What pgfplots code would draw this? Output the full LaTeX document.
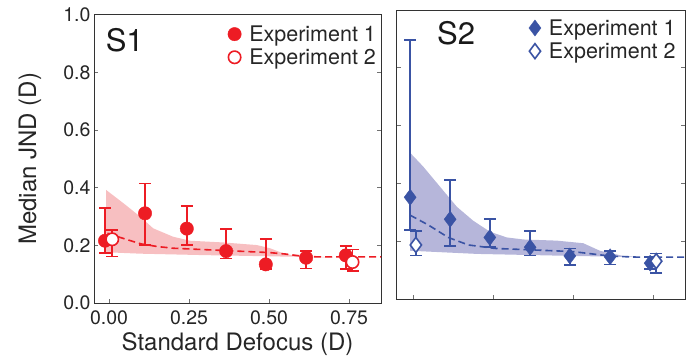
\documentclass[border=0pt]{standalone}
\usepackage{pgfplots}
\pgfplotsset{compat=1.18}
\usepackage{fontspec}
\setmainfont{TeX Gyre Heros}
\definecolor{cred}{HTML}{ED1C24}
\definecolor{cpink}{HTML}{F7BFC1}
\definecolor{cblue}{HTML}{3A53A4}
\definecolor{clav}{HTML}{B6B6DA}
\definecolor{cframe}{HTML}{333333}
\begin{document}
\begin{tikzpicture}
\path[use as bounding box] (0,0) rectangle (696bp,360bp);
\pgfplotsset{
  common/.style={
    scale only axis,
    anchor=south west,
    ymin=0, ymax=1, xmax=0.85,
    axis line style={cframe, line width=0.9bp},
    tick style={cframe!70, line width=0.8bp},
    tick align=inside,
    major tick length=4bp,
    xtick={0,0.25,0.5,0.75},
    ytick={0,0.2,0.4,0.6,0.8,1.0},
    xtick pos=bottom,
    ytick pos=both,
    /pgf/number format/assume math mode=true,
    ticklabel style={font=\fontsize{19.5bp}{22bp}\selectfont, text=black!85},
    xticklabel style={yshift=-4bp},
    label style={font=\fontsize{24bp}{28bp}\selectfont, text=black!85},
    legend style={draw=none, fill=none, font=\fontsize{21.5bp}{25bp}\selectfont, text=black!85,
      row sep=2bp, inner sep=0pt, anchor=north east,
      /tikz/every odd column/.append style={column sep=6bp}},
    legend cell align=left,
  },
  ebar/.style={
    error bars/.cd, y dir=both, y explicit,
    error bar style={#1, line width=1.6bp},
    error mark options={rotate=90, mark size=6bp, line width=1.6bp, #1},
  }
}
% ---------------- S1 ----------------
\begin{axis}[common,
  at={(94bp,57bp)}, width=287bp, height=288.3bp,
  xmin=-0.047,
  xticklabels={0.00,0.25,0.50,0.75},
  yticklabels={0.0,0.2,0.4,0.6,0.8,1.0},
  xlabel={Standard Defocus (D)},
  ylabel={Median JND (D)},
  xlabel style={at={(axis description cs:0.5,-0.142)}, anchor=center},
  ylabel style={at={(axis description cs:-0.223,0.5)}, anchor=center},
  legend style={at={(axis description cs:0.99,0.97)}},
]
\addplot[fill=cpink, draw=none, forget plot] coordinates {
(-0.009,0.392) (0.045,0.346) (0.097,0.300) (0.138,0.259) (0.200,0.230) (0.253,0.216)
(0.357,0.210) (0.462,0.201) (0.503,0.190) (0.545,0.172) (0.586,0.163) (0.650,0.160) (0.700,0.159)
(0.700,0.158) (0.650,0.159) (0.500,0.162) (0.300,0.166) (0.100,0.171) (-0.009,0.176)} -- cycle;
\addplot[cred, line width=1.6bp, dash pattern=on 7bp off 4bp, forget plot] coordinates {
(-0.005,0.242) (0.05,0.222) (0.10,0.205) (0.15,0.196) (0.20,0.190) (0.30,0.185)
(0.40,0.180) (0.50,0.175) (0.55,0.170) (0.60,0.163) (0.65,0.160) (0.85,0.160)};
\addplot[cred, only marks, mark=*, mark size=6.7bp, mark options={fill=cred, draw=cred}, ebar=cred]
  table[x=x, y=y, y error plus=ep, y error minus=em] {
x       y      ep     em
-0.0125 0.216  0.114  0.043
0.1125  0.311  0.104  0.110
0.243   0.258  0.078  0.057
0.366   0.180  0.076  0.025
0.490   0.134  0.089  0.017
0.616   0.157  0.024  0.038
0.740   0.165  0.033  0.048
};
\addlegendentry{Experiment 1}
\addplot[cred, only marks, mark=*, mark size=6.2bp, mark options={fill=white, draw=cred, line width=1.6bp}, ebar=cred]
  table[x=x, y=y, y error plus=ep, y error minus=em] {
x      y      ep     em
0.010  0.221  0.032  0.060
0.761  0.142  0.044  0.030
};
\addlegendentry{Experiment 2}
\node[font=\fontsize{31bp}{34bp}\selectfont, text=black!90] at (axis description cs:0.107,0.912) {S1};
\end{axis}
% ---------------- S2 ----------------
\begin{axis}[common,
  at={(396.7bp,61bp)}, width=288.3bp, height=289bp,
  xmin=-0.051,
  xticklabels={}, yticklabels={},
  legend style={at={(axis description cs:0.975,0.975)}},
]
\addplot[fill=clav, draw=none, forget plot] coordinates {
(-0.009,0.506) (0.032,0.458) (0.084,0.389) (0.137,0.319) (0.188,0.271) (0.240,0.233)
(0.293,0.213) (0.345,0.206) (0.449,0.202) (0.532,0.193) (0.584,0.167) (0.657,0.149) (0.700,0.146)
(0.700,0.145) (0.500,0.149) (0.200,0.156) (-0.009,0.167)} -- cycle;
\addplot[cblue, line width=1.6bp, dash pattern=on 7bp off 4bp, forget plot] coordinates {
(-0.009,0.290) (0.048,0.256) (0.110,0.213) (0.173,0.187) (0.256,0.175) (0.370,0.170)
(0.500,0.164) (0.620,0.148) (0.700,0.145) (0.850,0.145)};
\addplot[cblue, only marks, mark=diamond*, mark size=8bp, mark options={fill=cblue, draw=cblue}, ebar=cblue]
  table[x=x, y=y, y error plus=ep, y error minus=em] {
x       y      ep     em
-0.009  0.352  0.544  0.113
0.116   0.276  0.136  0.093
0.240   0.213  0.063  0.034
0.366   0.179  0.057  0.028
0.490   0.149  0.026  0.031
0.616   0.146  0.021  0.026
0.741   0.124  0.022  0.021
};
\addlegendentry{Experiment 1}
\addplot[cblue, only marks, mark=diamond*, mark size=7.5bp, mark options={fill=white, draw=cblue, line width=1.6bp}, ebar=cblue]
  table[x=x, y=y, y error plus=ep, y error minus=em] {
x      y      ep     em
0.009  0.187  0.049  0.036
0.760  0.131  0.027  0.040
};
\addlegendentry{Experiment 2}
\node[font=\fontsize{31bp}{34bp}\selectfont, text=black!90] at (axis description cs:0.206,0.92) {S2};
\end{axis}
\end{tikzpicture}
\end{document}
